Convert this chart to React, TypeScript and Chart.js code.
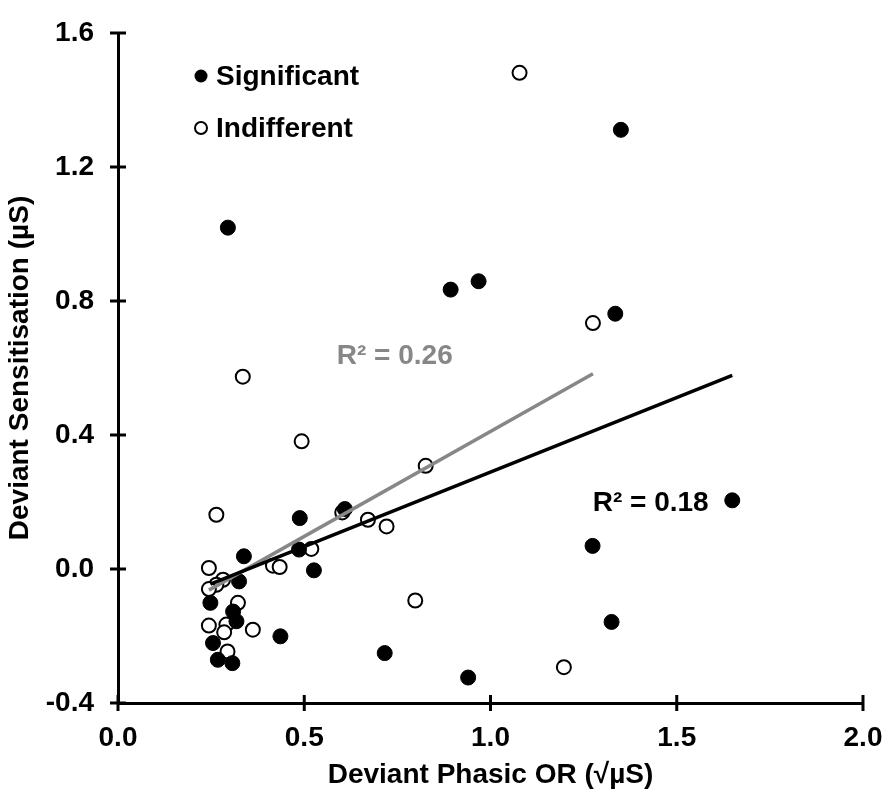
import { useEffect, useRef } from "react";
import { Chart, registerables } from "chart.js";

Chart.register(...registerables);

// Significant responders (filled markers)
const sigX = [1.35, 0.295, 0.893, 0.968, 1.335, 0.609, 0.488, 0.338, 0.486, 0.526, 1.649, 1.274, 1.325, 0.94, 0.716, 0.436, 0.325, 0.248, 0.309, 0.318, 0.255, 0.268, 0.307];
const sigY = [1.311, 1.019, 0.834, 0.859, 0.762, 0.179, 0.152, 0.038, 0.058, -0.004, 0.205, 0.069, -0.158, -0.324, -0.251, -0.201, -0.037, -0.101, -0.127, -0.156, -0.221, -0.271, -0.281];

// Indifferent responders (open markers)
const indX = [1.078, 1.275, 0.335, 0.493, 0.826, 0.671, 0.721, 0.264, 0.602, 0.519, 0.416, 0.434, 0.244, 0.282, 0.264, 0.244, 0.322, 0.244, 0.291, 0.285, 0.362, 0.294, 0.798, 1.197];
const indY = [1.481, 0.734, 0.574, 0.381, 0.308, 0.147, 0.127, 0.162, 0.169, 0.06, 0.01, 0.006, 0.003, -0.032, -0.047, -0.06, -0.101, -0.169, -0.166, -0.189, -0.181, -0.246, -0.094, -0.293];

// linear trend lines (end points)
const sigFitX = [0.248, 1.649];
const sigFitY = [-0.045, 0.578];
const indFitX = [0.244, 1.275];
const indFitY = [-0.063, 0.583];

const sigR2 = "R² = 0.18";
const indR2 = "R² = 0.26";

const FONT = "'Liberation Sans', Arial, sans-serif";
const GREY = "#878787";
const SIZE = 28;

const pts = (xs: number[], ys: number[]) => xs.map((x, i) => ({ x, y: ys[i] }));

const extras = {
  id: "extras",
  afterDraw(chart: any) {
    const { ctx, chartArea, scales } = chart;
    const xs = scales.x;
    const ys = scales.y;
    ctx.save();
    // cross ticks
    ctx.strokeStyle = "#000";
    ctx.lineWidth = 3;
    ys.ticks.forEach((t: any) => {
      const py = ys.getPixelForValue(t.value);
      ctx.beginPath();
      ctx.moveTo(chartArea.left - 8, py);
      ctx.lineTo(chartArea.left + 8, py);
      ctx.stroke();
    });
    xs.ticks.forEach((t: any) => {
      const px = xs.getPixelForValue(t.value);
      ctx.beginPath();
      ctx.moveTo(px, chartArea.bottom - 8);
      ctx.lineTo(px, chartArea.bottom + 8);
      ctx.stroke();
    });

    // R² labels
    ctx.font = `bold ${SIZE}px ${FONT}`;
    ctx.textAlign = "center";
    ctx.textBaseline = "middle";
    ctx.fillStyle = GREY;
    ctx.fillText(indR2, xs.getPixelForValue(0.743), ys.getPixelForValue(0.635));
    ctx.fillStyle = "#000";
    ctx.fillText(sigR2, xs.getPixelForValue(1.43), ys.getPixelForValue(0.197));

    // legend
    const lx = chartArea.left + 83;
    ctx.textAlign = "left";
    ctx.beginPath();
    ctx.arc(lx, chartArea.top + 43, 6.5, 0, Math.PI * 2);
    ctx.fillStyle = "#000";
    ctx.fill();
    ctx.fillText("Significant", lx + 15, chartArea.top + 44);
    ctx.beginPath();
    ctx.arc(lx, chartArea.top + 95, 6, 0, Math.PI * 2);
    ctx.fillStyle = "#fff";
    ctx.fill();
    ctx.lineWidth = 2;
    ctx.stroke();
    ctx.fillStyle = "#000";
    ctx.fillText("Indifferent", lx + 15, chartArea.top + 96);
    ctx.restore();
  },
};

export default function App() {
  const canvasRef = useRef<HTMLCanvasElement>(null);

  useEffect(() => {
    document.body.style.margin = "0";
    if (!canvasRef.current) return;
    const chart = new Chart(canvasRef.current, {
      type: "scatter",
      data: {
        datasets: [
          {
            type: "line",
            label: "Significant trend",
            data: pts(sigFitX, sigFitY),
            borderColor: "#000",
            borderWidth: 3.5,
            pointRadius: 0,
            order: 0,
          },
          {
            type: "line",
            label: "Indifferent trend",
            data: pts(indFitX, indFitY),
            borderColor: GREY,
            borderWidth: 3.5,
            pointRadius: 0,
            order: 0,
          },
          {
            label: "Significant",
            data: pts(sigX, sigY),
            backgroundColor: "#000",
            borderColor: "#000",
            borderWidth: 1,
            pointRadius: 7.5,
            order: 1,
          },
          {
            label: "Indifferent",
            data: pts(indX, indY),
            backgroundColor: "#fff",
            borderColor: "#000",
            borderWidth: 2,
            pointRadius: 7,
            order: 2,
          },
        ],
      } as any,
      options: {
        animation: false,
        responsive: true,
        maintainAspectRatio: false,
        layout: { padding: { top: 33, right: 29, left: 0, bottom: 0 } },
        plugins: { legend: { display: false }, tooltip: { enabled: false } },
        scales: {
          x: {
            type: "linear",
            min: 0,
            max: 2,
            afterFit: (s: any) => {
              s.height = 97;
              s.paddingLeft = 0;
              s.paddingRight = 0;
            },
            grid: { display: false, drawTicks: false },
            border: { color: "#000", width: 3 },
            ticks: {
              stepSize: 0.5,
              padding: 18,
              color: "#000",
              font: { family: FONT, size: SIZE, weight: "bold" },
              callback: (v: any) => Number(v).toFixed(1),
            },
            title: {
              display: true,
              text: "Deviant Phasic OR (√µS)",
              color: "#000",
              font: { family: FONT, size: SIZE, weight: "bold" },
              padding: { top: 0, bottom: 8 },
            },
          },
          y: {
            type: "linear",
            min: -0.4,
            max: 1.6,
            afterFit: (s: any) => {
              s.width = 118;
              s.paddingTop = 0;
              s.paddingBottom = 0;
            },
            grid: { display: false, drawTicks: false },
            border: { color: "#000", width: 3 },
            ticks: {
              stepSize: 0.4,
              padding: 24,
              color: "#000",
              font: { family: FONT, size: SIZE, weight: "bold" },
              callback: (v: any) => Number(v).toFixed(1),
            },
            title: {
              display: true,
              text: "Deviant Sensitisation (µS)",
              color: "#000",
              font: { family: FONT, size: SIZE, weight: "bold" },
              padding: { top: 3, bottom: 0 },
            },
          },
        },
      },
      plugins: [extras],
    });
    return () => chart.destroy();
  }, []);

  return (
    <div style={{ width: 892, height: 800, position: "relative", background: "#fff" }}>
      <canvas ref={canvasRef} />
    </div>
  );
}
